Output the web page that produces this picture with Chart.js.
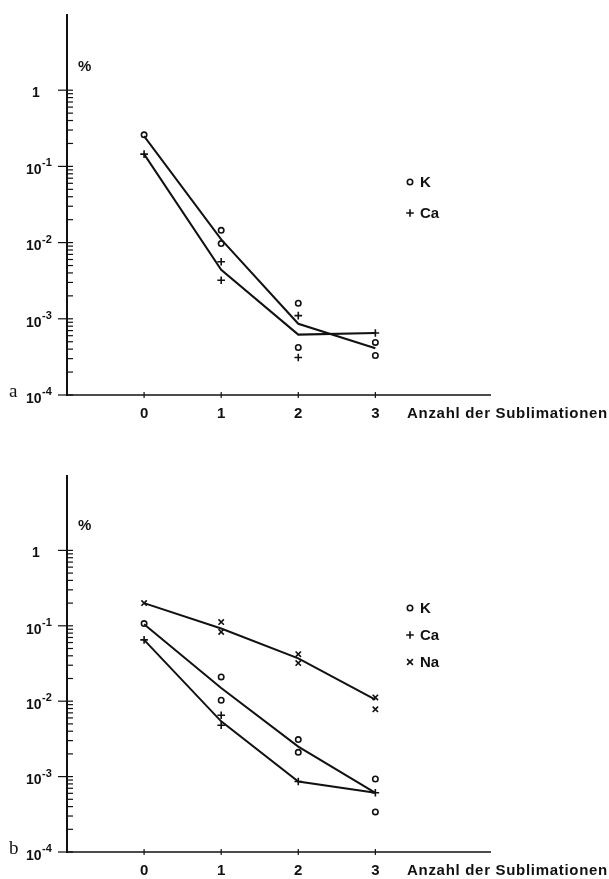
<!DOCTYPE html>
<html>
<head>
<meta charset="utf-8">
<script src="https://cdn.jsdelivr.net/npm/chart.js@4.4.1/dist/chart.umd.min.js"></script>
<style>
    html, body { margin: 0; padding: 0; background: #fff; }
    #wrap { position: relative; width: 609px; height: 879px; }
    canvas { position: absolute; left: 0; }
</style>
</head>
<body>
<div id="wrap">
    <canvas id="chartA" width="609" height="440" style="top:0px"></canvas>
    <canvas id="chartB" width="609" height="439" style="top:440px"></canvas>
</div>
<script>
// -------- DATA --------
const sublimations = [0, 1, 2, 3];
const decadeTicks = [1e-4, 1e-3, 1e-2, 1e-1, 1];
const decadeLabels = ['10', '10', '10', '10', '1'];
const decadeExponents = ['-4', '-3', '-2', '-1', ''];
const xTitle = 'Anzahl der Sublimationen';

// panel a: measured points
const aKx = [0, 1, 1, 2, 2, 3, 3];
const aKy = [0.26, 0.0145, 0.0097, 0.0016, 0.00042, 0.00049, 0.00033];
const aCax = [0, 1, 1, 2, 2, 3];
const aCay = [0.145, 0.0056, 0.0032, 0.0011, 0.00031, 0.00065];
// panel a: drawn curves
const aKLine = [0.25, 0.011, 0.00086, 0.00041];
const aCaLine = [0.145, 0.0044, 0.00062, 0.00065];

// panel b: measured points
const bKx = [0, 1, 1, 2, 2, 3, 3];
const bKy = [0.107, 0.021, 0.0103, 0.0031, 0.0021, 0.00093, 0.00034];
const bCax = [0, 1, 1, 2, 3];
const bCay = [0.065, 0.0065, 0.0048, 0.00086, 0.00061];
const bNax = [0, 1, 1, 2, 2, 3, 3];
const bNay = [0.2, 0.112, 0.083, 0.042, 0.032, 0.0112, 0.0078];
// panel b: drawn curves
const bKLine = [0.105, 0.015, 0.0025, 0.00061];
const bCaLine = [0.065, 0.0054, 0.00086, 0.00061];
const bNaLine = [0.2, 0.092, 0.037, 0.0105];
// -------- END DATA --------

// -------- HELPERS --------
const INK = '#111';
const FONT = '"Liberation Sans", Arial, sans-serif';

function toPoints(xs, ys) {
    return xs.map((x, i) => ({ x: x, y: ys[i] }));
}

function pointSet(xs, ys, style) {
    return {
        data: toPoints(xs, ys),
        showLine: false,
        pointStyle: style,
        pointRadius: style === 'circle' ? 2.7 : 3.8,
        pointBackgroundColor: '#fff',
        pointBorderColor: INK,
        pointBorderWidth: 1.6,
        borderColor: INK
    };
}

function lineSet(values) {
    return {
        data: toPoints(sublimations, values),
        showLine: true,
        borderColor: INK,
        borderWidth: 2,
        pointRadius: 0,
        tension: 0
    };
}

function drawMarker(ctx, style, x, y) {
    ctx.save();
    ctx.strokeStyle = INK;
    ctx.lineWidth = 1.6;
    ctx.beginPath();
    if (style === 'circle') {
        ctx.arc(x, y, 2.7, 0, Math.PI * 2);
    } else if (style === 'cross') {
        ctx.moveTo(x - 3.8, y); ctx.lineTo(x + 3.8, y);
        ctx.moveTo(x, y - 3.8); ctx.lineTo(x, y + 3.8);
    } else {
        ctx.moveTo(x - 2.9, y - 2.9); ctx.lineTo(x + 2.9, y + 2.9);
        ctx.moveTo(x + 2.9, y - 2.9); ctx.lineTo(x - 2.9, y + 2.9);
    }
    ctx.stroke();
    ctx.restore();
}

// axes drawn like the paper figure, using the chart's own scales
const paperAxes = {
    id: 'paperAxes',
    afterDraw(chart, args, opts) {
        const ctx = chart.ctx;
        const xs = chart.scales.x;
        const ys = chart.scales.y;
        const left = xs.getPixelForValue(-1);
        const right = xs.getPixelForValue(4.5);
        const top = ys.getPixelForValue(10);
        const bottom = ys.getPixelForValue(1e-4);

        ctx.save();
        ctx.strokeStyle = INK;
        ctx.fillStyle = INK;

        // y axis
        ctx.lineWidth = 2;
        ctx.beginPath();
        ctx.moveTo(left, top);
        ctx.lineTo(left, bottom + 1);
        ctx.stroke();

        // x axis
        ctx.lineWidth = 1.6;
        ctx.beginPath();
        ctx.moveTo(left, bottom);
        ctx.lineTo(right, bottom);
        ctx.stroke();

        // decade and minor ticks
        ctx.lineWidth = 1.2;
        for (let e = -4; e <= 0; e++) {
            const py = ys.getPixelForValue(Math.pow(10, e));
            ctx.beginPath();
            ctx.moveTo(left - 9, py);
            ctx.lineTo(left + 6, py);
            ctx.stroke();
            if (e < 0) {
                for (let k = 2; k <= 9; k++) {
                    const my = ys.getPixelForValue(k * Math.pow(10, e));
                    ctx.beginPath();
                    ctx.moveTo(left, my);
                    ctx.lineTo(left + 6, my);
                    ctx.stroke();
                }
            }
        }

        // decade labels
        ctx.textBaseline = 'middle';
        ctx.textAlign = 'left';
        decadeTicks.forEach((v, i) => {
            const py = ys.getPixelForValue(v);
            ctx.font = 'bold 14px ' + FONT;
            if (decadeExponents[i] === '') {
                ctx.fillText(decadeLabels[i], 32, py + 3);
            } else {
                ctx.fillText(decadeLabels[i], 26, py + 4);
                const w = ctx.measureText(decadeLabels[i]).width;
                ctx.font = 'bold 11px ' + FONT;
                ctx.fillText(decadeExponents[i], 26 + w + 0.5, py - 3);
            }
        });

        // x ticks and labels
        ctx.lineWidth = 1.2;
        ctx.textAlign = 'center';
        ctx.font = 'bold 15px ' + FONT;
        sublimations.forEach(s => {
            const px = xs.getPixelForValue(s);
            ctx.beginPath();
            ctx.moveTo(px, bottom - 3);
            ctx.lineTo(px, bottom + 3);
            ctx.stroke();
            ctx.fillText(String(s), px, bottom + 19);
        });

        // axis title, unit and panel letter
        ctx.textAlign = 'left';
        ctx.font = 'bold 15px ' + FONT;
        ctx.letterSpacing = '0.7px';
        ctx.fillText(xTitle, 407, bottom + 19);
        ctx.letterSpacing = '0px';
        ctx.fillText('%', 78, ys.getPixelForValue(1) - opts.unitOffset);
        ctx.font = '19px "Liberation Serif", serif';
        ctx.fillText(opts.letter, 9, bottom - 3);

        // legend
        opts.legend.forEach((item, i) => {
            const ly = opts.legendTop + i * opts.legendStep;
            drawMarker(ctx, item.style, 410, ly);
            ctx.font = 'bold 15px ' + FONT;
            ctx.fillText(item.label, 420, ly + 1);
        });
        ctx.restore();
    }
};

function baseOptions(pad, extra) {
    return {
        responsive: false,
        animation: false,
        layout: { padding: pad },
        plugins: {
            legend: { display: false },
            tooltip: { enabled: false },
            paperAxes: extra
        },
        scales: {
            x: { type: 'linear', min: -1, max: 4.5, display: false },
            y: { type: 'logarithmic', min: 1e-4, max: 10, display: false }
        }
    };
}
// -------- END HELPERS --------

// -------- CHARTS --------
new Chart(document.getElementById('chartA'), {
    type: 'scatter',
    data: {
        datasets: [
            lineSet(aKLine),
            lineSet(aCaLine),
            pointSet(aKx, aKy, 'circle'),
            pointSet(aCax, aCay, 'cross')
        ]
    },
    options: baseOptions({ left: 67, right: 118, top: 14, bottom: 45 }, {
        letter: 'a',
        unitOffset: 23,
        legendTop: 182,
        legendStep: 31,
        legend: [{ style: 'circle', label: 'K' }, { style: 'cross', label: 'Ca' }]
    }),
    plugins: [paperAxes]
});

new Chart(document.getElementById('chartB'), {
    type: 'scatter',
    data: {
        datasets: [
            lineSet(bNaLine),
            lineSet(bKLine),
            lineSet(bCaLine),
            pointSet(bKx, bKy, 'circle'),
            pointSet(bCax, bCay, 'cross'),
            pointSet(bNax, bNay, 'crossRot')
        ]
    },
    options: baseOptions({ left: 67, right: 118, top: 35, bottom: 27 }, {
        letter: 'b',
        unitOffset: 25,
        legendTop: 168,
        legendStep: 27,
        legend: [
            { style: 'circle', label: 'K' },
            { style: 'cross', label: 'Ca' },
            { style: 'crossRot', label: 'Na' }
        ]
    }),
    plugins: [paperAxes]
});
// -------- END CHARTS --------
</script>
</body>
</html>
